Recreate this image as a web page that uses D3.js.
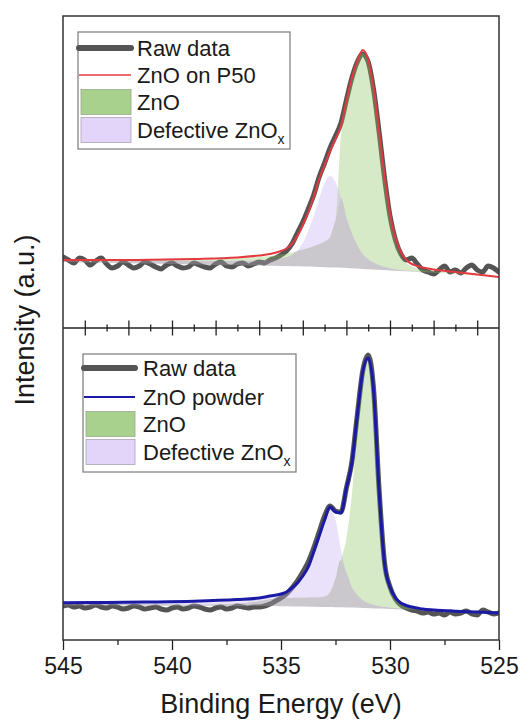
<!DOCTYPE html>
<html><head><meta charset="utf-8">
<script src="https://cdn.jsdelivr.net/npm/d3@7"></script>
<style>
body{margin:0;background:#fff}
svg{display:block}
text{font-family:"Liberation Sans",Arial,Helvetica,sans-serif;fill:#1a1a1a}
</style>
</head><body>
<svg id="c" width="520" height="721"></svg>
<script>
// ---------- data (intensity in arbitrary units) ----------
const rawEnergy = [545,544.75,544.5,544.25,544,543.75,543.5,543.25,543,542.75,542.5,542.25,542,541.75,541.5,541.25,541,540.75,540.5,540.25,540,539.75,539.5,539.25,539,538.75,538.5,538.25,538,537.75,537.5,537.25,537,536.75,536.5,536.25,536,535.75,535.5,535.25,535,534.75,534.5,534.25,534,533.75,533.5,533.25,533,532.75,532.5,532.25,532,531.75,531.5,531.25,531,530.75,530.5,530.25,530,529.75,529.5,529.25,529,528.75,528.5,528.25,528,527.75,527.5,527.25,527,526.75,526.5,526.25,526,525.75,525.5,525.25,525];
const rawTop = [71,68,65,70,68,63,67,70,64,60,62,66,63,60,62,66,64,61,59,63,65,62,60,61,65,63,61,60,64,66,62,61,64,65,62,64,66,65,68,70,73,77,84,95,106,119,133,151,165,180,192,205,228,250,266,274,266,238,196,150,112,88,74,68,70,64,58,56,54,58,62,56,58,55,60,63,58,56,62,60,56];
const rawBottom = [34,35,33,34,32,33,35,33,32,34,33,31,32,34,33,31,32,33,31,30,32,33,31,32,34,33,31,30,32,33,31,32,34,33,32,33,33,34,36,39,42,46,52,59,68,78,92,108,124,134,129,128,152,178,225,269,285,250,150,77,53,41,35,32,30,29,27,28,26,27,25,28,26,27,29,26,25,30,28,26,27];

const compEnergy = [545,543,541,539,537,536,535.5,535,534.75,534.5,534.25,534,533.75,533.5,533.25,533,532.75,532.5,532.25,532,531.75,531.5,531.25,531,530.75,530.5,530.25,530,529.75,529.5,529.25,529,528.75,528.5,528,527,526,525];

const baseTop   = [66,65.2,64.4,63.6,62.8,62.4,62.2,62,61.9,61.8,61.7,61.6,61.4,61.2,61,60.8,60.6,60.4,60.2,60,59.7,59.4,59.1,58.8,58.5,58.2,57.9,57.6,57.3,57,56.7,56.4,56.1,55.8,55.2,54,52.5,51];
const fitTop    = [68,68,68.2,69,70.5,72.5,74,77,79.5,84,92,103,116,131,149,163,177,189,202,227,250,267,278,268,240,197,152,114,90,76,68,64,62,60.5,58.5,56,53.5,51];
const znoTop    = [67.5,67.3,68,68.2,69.5,71,72,73.5,74.5,75.5,77,78.5,80,82,84,86.5,91,108,192,224,247,266,275,265,236,194,148,110,86,72,65,61.5,59.5,58.3,56.8,54.8,53,51.3];
const defTop    = [67,66.5,67.8,67.2,67.2,68,68.6,70,71,73,77,85,97,112,129,145,152,146,130,111,95,83,74,69,65.5,63,61.2,59.8,58.8,58,57.4,56.9,56.4,56,55.3,54.1,52.8,51.2];

const baseBottom = [34.5,34.4,34.3,34.2,34.1,34,33.9,33.8,33.7,33.6,33.5,33.4,33.3,33.2,33.1,33,32.9,32.8,32.7,32.6,32.4,32.2,32,31.8,31.6,31.4,31.2,31,30.8,30.6,30.4,30.2,30,29.8,29.3,28.3,27.4,26.6];
const fitBottom  = [37.3,37.5,38,38.8,40.5,42,44,46,48,52,57,64,73,88,104,120,133,128,127,152,177,224,268,282,248,148,76,53,42,37,34.5,33,32,31,30,28.8,28,27];
const znoBottom  = [36.3,36,35.8,35.6,36.5,39,41,42,42.2,42.3,42.4,42.5,42.6,42.7,42.8,43.5,48,62,80,102,145,212,266,280,244,146,74,51,41,36.5,34,32.5,31.5,30.8,29.8,28.6,27.7,26.8];
const defBottom  = [37,37,37.2,37.5,38.5,40.5,42.5,44.5,46.5,51,57,64,72,86,103,118,130,120,90,68,53,45,40,37,35.2,34,33.2,32.6,32,31.6,31.2,30.8,30.5,30.2,29.6,28.5,27.6,26.8];

const xTickLabels = [545,540,535,530,525];
const xMinorTicks = [542.5,537.5,532.5,527.5];
const midMajorTicks = [544,542,540,538,536,534,532,530,528,526];
const midMinorTicks = [543,541,539,537,535,533,531,529,527];

const legendTop = ["Raw data","ZnO on P50","ZnO","Defective ZnO"];
const legendBottom = ["Raw data","ZnO powder","ZnO","Defective ZnO"];
const legendSub = "x";
const xTitle = "Binding Energy (eV)";
const yTitle = "Intensity (a.u.)";

// ---------- layout ----------
const svg = d3.select("#c");
const L = 63, R = 499, T = 16, M = 328, B = 640;
const x = d3.scaleLinear().domain([545,525]).range([L,R]);
const yTop = d3.scaleLinear().domain([0,312]).range([M,T]);
const yBot = d3.scaleLinear().domain([0,312]).range([B,M]);

const defs = svg.append("defs");
function clip(id, y0, y1){
  defs.append("clipPath").attr("id",id).append("rect")
    .attr("x",L).attr("y",y0).attr("width",R-L).attr("height",y1-y0);
}
clip("clipTop", T, M);
clip("clipBot", M, B);

function panel(y, raw, base, fit, zno, def, fitColor, fitWidth, clipId){
  const g = svg.append("g").attr("clip-path",`url(#${clipId})`);
  const line = d3.line().x(d=>x(d[0])).y(d=>y(d[1])).curve(d3.curveMonotoneX);
  g.append("path")
    .datum(rawEnergy.map((e,i)=>[e,raw[i]]))
    .attr("d",line).attr("fill","none")
    .attr("stroke","#545454").attr("stroke-width",5)
    .attr("stroke-linejoin","round").attr("stroke-linecap","round");

  const rows = compEnergy.map((e,i)=>{
    const b = base[i], gz = zno[i], pd = def[i];
    const m = Math.max(b, Math.min(gz,pd));
    return {e, b, m, g: Math.max(gz,m), p: Math.max(pd,m)};
  });
  const area = (k0,k1)=>d3.area().x(d=>x(d.e)).y0(d=>y(d[k0])).y1(d=>y(d[k1])).curve(d3.curveMonotoneX);
  g.append("path").datum(rows).attr("d",area("b","m"))
    .attr("fill","rgb(149,143,155)").attr("fill-opacity",0.5);
  g.append("path").datum(rows).attr("d",area("m","g"))
    .attr("fill","rgb(141,195,98)").attr("fill-opacity",0.35);
  g.append("path").datum(rows).attr("d",area("m","p"))
    .attr("fill","rgb(195,172,241)").attr("fill-opacity",0.35);

  g.append("path")
    .datum(compEnergy.map((e,i)=>[e,fit[i]]))
    .attr("d",line).attr("fill","none")
    .attr("stroke",fitColor).attr("stroke-width",fitWidth)
    .attr("stroke-linejoin","round");
}

panel(yTop, rawTop, baseTop, fitTop, znoTop, defTop, "#e23a3f", 2, "clipTop");
panel(yBot, rawBottom, baseBottom, fitBottom, znoBottom, defBottom, "#1a1aa6", 3, "clipBot");

// ---------- axes ----------
const axisStyle = sel => { sel.select(".domain").remove(); sel.selectAll("line").attr("stroke","#222").attr("stroke-width",1.3); };

// middle divider ticks (both directions)
[[d3.axisTop, midMajorTicks, 7.5],[d3.axisBottom, midMajorTicks, 7.5],
 [d3.axisTop, midMinorTicks, 3.5],[d3.axisBottom, midMinorTicks, 3.5]].forEach(([ax,vals,len])=>{
  svg.append("g").attr("transform",`translate(0,${M})`)
    .call(ax(x).tickValues(vals).tickSize(len).tickFormat(""))
    .call(axisStyle);
});
svg.append("line").attr("x1",L).attr("x2",R).attr("y1",M).attr("y2",M)
  .attr("stroke","#222").attr("stroke-width",1.5);

// bottom axis
svg.append("g").attr("transform",`translate(0,${B})`)
  .call(d3.axisBottom(x).tickValues(xMinorTicks).tickSize(5).tickFormat(""))
  .call(axisStyle);
const bx = svg.append("g").attr("transform",`translate(0,${B})`)
  .call(d3.axisBottom(x).tickValues(xTickLabels).tickSize(10).tickPadding(8).tickFormat(d3.format("d")))
  .call(axisStyle);
bx.selectAll("text").attr("font-size",23).attr("fill","#1a1a1a")
  .style("font-family",'"Liberation Sans",Arial,sans-serif');

// frame
svg.append("rect").attr("x",L).attr("y",T).attr("width",R-L).attr("height",B-T)
  .attr("fill","none").attr("stroke","#333").attr("stroke-width",1.5);

// titles
svg.append("text").attr("x",(L+R)/2).attr("y",713).attr("text-anchor","middle")
  .attr("font-size",27).text(xTitle);
svg.append("text").attr("transform","translate(34,320) rotate(-90)").attr("text-anchor","middle")
  .attr("font-size",27).text(yTitle);

// ---------- legends ----------
function legend(labels, fitColor, fitWidth, box, rowsY, sx0, sx1, tx){
  svg.append("rect").attr("x",box[0]).attr("y",box[1]).attr("width",box[2]-box[0]).attr("height",box[3]-box[1])
    .attr("fill","#fff").attr("stroke","#7a7a7a").attr("stroke-width",1.2);
  const g = svg.append("g");
  g.append("line").attr("x1",sx0-2).attr("x2",sx1).attr("y1",rowsY[0]).attr("y2",rowsY[0])
    .attr("stroke","#545454").attr("stroke-width",6).attr("stroke-linecap","round");
  g.append("line").attr("x1",sx0-2).attr("x2",sx1).attr("y1",rowsY[1]).attr("y2",rowsY[1])
    .attr("stroke",fitColor).attr("stroke-width",fitWidth);
  g.append("rect").attr("x",sx0).attr("y",rowsY[2]-12.5).attr("width",sx1-sx0).attr("height",25)
    .attr("fill","#a9d18e").attr("stroke","#9aa88f").attr("stroke-width",0.8);
  g.append("rect").attr("x",sx0).attr("y",rowsY[3]-12.5).attr("width",sx1-sx0).attr("height",25)
    .attr("fill","#e3d5fa").attr("stroke","#aaa3b5").attr("stroke-width",0.8);
  labels.forEach((lab,i)=>{
    const t = g.append("text").attr("x",tx).attr("y",rowsY[i]+8).attr("font-size",22).text(lab);
    if(i===3) t.append("tspan").attr("font-size",14).attr("dy",6).text(legendSub);
  });
}
legend(legendTop, "#e23a3f", 1.6, [78,32,290,149], [48,75,102,130], 81, 131, 137);
legend(legendBottom, "#1a1aa6", 2, [83,354,296,472], [368,397,424,452], 86, 135, 143);
</script>
</body></html>
